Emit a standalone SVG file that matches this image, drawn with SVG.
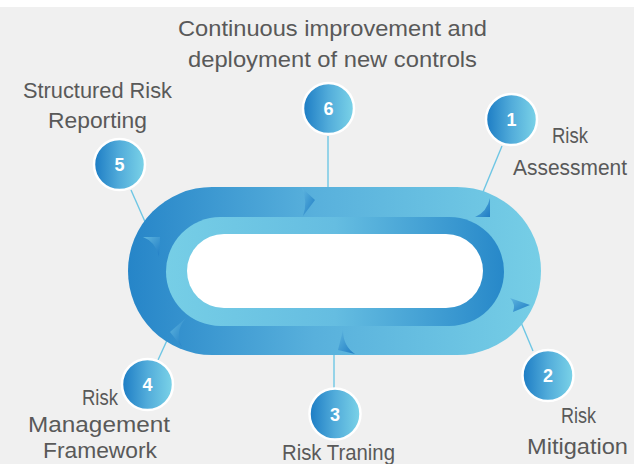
<svg xmlns="http://www.w3.org/2000/svg" width="634" height="464" viewBox="0 0 634 464">
<defs>
<linearGradient id="gOuter" x1="0" y1="0" x2="1" y2="0"><stop offset="0" stop-color="#2685c8"/><stop offset="0.45" stop-color="#58b0dc"/><stop offset="1" stop-color="#76cee6"/></linearGradient>
<linearGradient id="gInner" x1="0" y1="0" x2="1" y2="0"><stop offset="0" stop-color="#76cee6"/><stop offset="0.5" stop-color="#65bde1"/><stop offset="1" stop-color="#2788c9"/></linearGradient>
<linearGradient id="gCirc" x1="0" y1="0" x2="1" y2="0"><stop offset="0" stop-color="#1c7cc4"/><stop offset="0.5" stop-color="#52acda"/><stop offset="1" stop-color="#7bd3e8"/></linearGradient>
<linearGradient id="gChev" x1="0" y1="0" x2="1" y2="1"><stop offset="0" stop-color="#5fb6df"/><stop offset="1" stop-color="#1f7cc4"/></linearGradient>
</defs>
<style>
.lbl{font-family:"Liberation Sans",Arial,sans-serif;font-size:22px;fill:#595959}
.num{font-family:"Liberation Sans",Arial,sans-serif;font-size:18px;font-weight:bold;fill:#ffffff;text-anchor:middle}
.conn{stroke:#6ec6e4;stroke-width:1.4;fill:none}
.dot{fill:url(#gCirc);stroke:#ffffff;stroke-width:2.5}
.chev{fill:url(#gChev)}
</style>
<rect x="0" y="0" width="634" height="464" fill="#f0f0f0"/>
<rect x="0" y="0" width="634" height="7" fill="#ffffff"/>
<g id="connectors">
<line class="conn" x1="502" y1="146" x2="483" y2="192"/>
<line class="conn" x1="131" y1="190" x2="146" y2="224"/>
<line class="conn" x1="328" y1="136" x2="328" y2="189"/>
<line class="conn" x1="169" y1="336" x2="158" y2="360"/>
<line class="conn" x1="334" y1="352" x2="334" y2="388"/>
<line class="conn" x1="520" y1="320" x2="533" y2="351"/>
</g>
<g id="ring">
<rect x="128" y="187" width="413" height="168" rx="84" ry="84" fill="url(#gOuter)"/>
<rect x="166" y="217" width="338" height="109" rx="54.5" ry="54.5" fill="url(#gInner)"/>
<rect x="187" y="234" width="296" height="74" rx="37" ry="37" fill="#ffffff"/>
<path class="chev" d="M302,188 L315,200 L303,216 Q308,202 302,188 Z"/>
<path class="chev" d="M490,198 L490,217 L475,217 Q487,212 490,198 Z"/>
<path class="chev" d="M510,298 L530,305 L513,312 Q516,304 510,298 Z"/>
<path class="chev" d="M343,330 L338,350 L355,354 Q343,346 343,330 Z"/>
<path class="chev" d="M186,318 L170,332 L182,347 Q174,332 186,318 Z"/>
<path class="chev" d="M143,237 L160,237 L159,257 Q156,242 143,237 Z"/>
</g>
<g id="node1">
<circle class="dot" cx="511.5" cy="119.5" r="25.5"/>
<text class="num" x="511.5" y="126">1</text>
<text class="lbl" x="552" y="142.5" textLength="36" lengthAdjust="spacingAndGlyphs">Risk</text>
<text class="lbl" x="513" y="174.5" textLength="114" lengthAdjust="spacingAndGlyphs">Assessment</text>
</g>
<g id="node2">
<circle class="dot" cx="548" cy="375.5" r="25.5"/>
<text class="num" x="548" y="382">2</text>
<text class="lbl" x="561" y="423" textLength="35" lengthAdjust="spacingAndGlyphs">Risk</text>
<text class="lbl" x="527" y="454" textLength="101" lengthAdjust="spacingAndGlyphs">Mitigation</text>
</g>
<g id="node3">
<circle class="dot" cx="335" cy="414" r="25.5"/>
<text class="num" x="335" y="420.5">3</text>
<text class="lbl" x="282" y="460" textLength="113" lengthAdjust="spacingAndGlyphs">Risk Traning</text>
</g>
<g id="node4">
<circle class="dot" cx="147.5" cy="384.5" r="25.5"/>
<text class="num" x="147.5" y="391">4</text>
<text class="lbl" x="82" y="405" textLength="36" lengthAdjust="spacingAndGlyphs">Risk</text>
<text class="lbl" x="28" y="432" textLength="142" lengthAdjust="spacingAndGlyphs">Management</text>
<text class="lbl" x="43" y="458" textLength="114" lengthAdjust="spacingAndGlyphs">Framework</text>
</g>
<g id="node5">
<circle class="dot" cx="119.5" cy="164.5" r="25.5"/>
<text class="num" x="119.5" y="171">5</text>
<text class="lbl" x="23" y="97.5" textLength="149" lengthAdjust="spacingAndGlyphs">Structured Risk</text>
<text class="lbl" x="48" y="128" textLength="99" lengthAdjust="spacingAndGlyphs">Reporting</text>
</g>
<g id="node6">
<circle class="dot" cx="328.5" cy="108.5" r="25.5"/>
<text class="num" x="328.5" y="115">6</text>
<text class="lbl" x="178" y="36" textLength="309" lengthAdjust="spacingAndGlyphs">Continuous improvement and</text>
<text class="lbl" x="188" y="67" textLength="289" lengthAdjust="spacingAndGlyphs">deployment of new controls</text>
</g>
</svg>
